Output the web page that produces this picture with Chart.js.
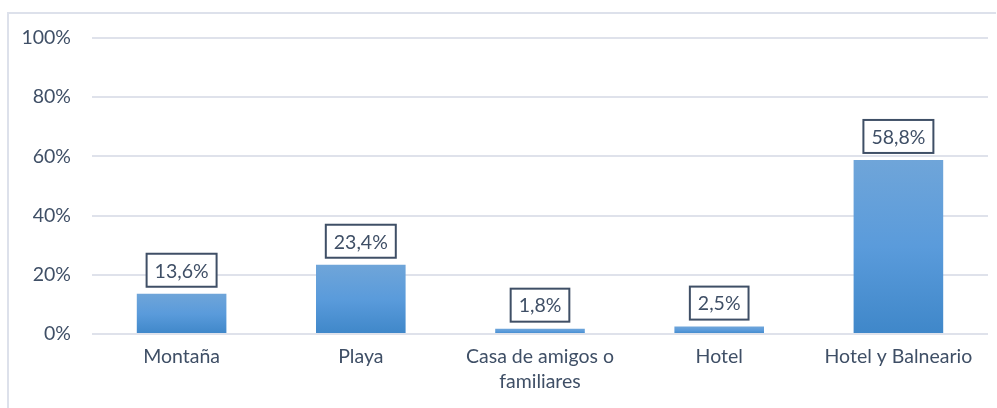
<!DOCTYPE html>
<html>
<head>
<meta charset="utf-8">
<script src="https://cdn.jsdelivr.net/npm/chart.js@4"></script>
<style>
  html, body { margin: 0; padding: 0; background: #ffffff; }
  #wrap { width: 997px; height: 408px; position: relative; }
</style>
</head>
<body>
<div id="wrap"><canvas id="c" width="997" height="408"></canvas></div>
<script>
const categories = ["Montaña", "Playa", ["Casa de amigos o", "familiares"], "Hotel", "Hotel y Balneario"];
const values = [13.6, 23.4, 1.8, 2.5, 58.8];
const yTicks = [0, 20, 40, 60, 80, 100];

const textColor = '#3f4f66';
const fontFamily = 'Lato, "Open Sans", sans-serif';
const fontSize = 19.5;

const framePlugin = {
  id: 'frame',
  beforeDraw(chart) {
    const c = chart.ctx;
    c.save();
    c.strokeStyle = '#dde1eb';
    c.lineWidth = 2;
    c.beginPath();
    c.moveTo(8, 408);
    c.lineTo(8, 13);
    c.lineTo(996, 13);
    c.stroke();
    c.restore();
  }
};

const labelPlugin = {
  id: 'boxLabels',
  afterDatasetsDraw(chart) {
    const c = chart.ctx;
    const meta = chart.getDatasetMeta(0);
    c.save();
    c.font = fontSize + 'px ' + fontFamily;
    c.textAlign = 'center';
    c.textBaseline = 'middle';
    meta.data.forEach((bar, i) => {
      const txt = values[i].toFixed(1).replace('.', ',') + '%';
      const w = c.measureText(txt).width + 16;
      const h = 33;
      const bottom = bar.y - 7;
      const left = bar.x - w / 2;
      c.fillStyle = '#ffffff';
      c.fillRect(left, bottom - h, w, h);
      c.strokeStyle = textColor;
      c.lineWidth = 2;
      c.strokeRect(left, bottom - h, w, h);
      c.fillStyle = textColor;
      c.fillText(txt, bar.x, bottom - h / 2 + 1);
    });
    c.restore();
  }
};

new Chart(document.getElementById('c'), {
  type: 'bar',
  data: {
    labels: categories,
    datasets: [{
      data: values,
      backgroundColor(ctx) {
        const chart = ctx.chart;
        if (!chart.chartArea || ctx.raw === undefined) return '#5b9bd5';
        const ys = chart.scales.y;
        const top = ys.getPixelForValue(ctx.raw);
        const base = ys.getPixelForValue(0);
        if (!isFinite(top) || !isFinite(base) || top === base) return '#5b9bd5';
        const g = chart.ctx.createLinearGradient(0, top, 0, base);
        g.addColorStop(0, '#6fa5d9');
        g.addColorStop(0.5, '#5a9bdb');
        g.addColorStop(1, '#3f87c9');
        return g;
      },
      borderWidth: 0,
      barPercentage: 0.5,
      categoryPercentage: 1.0
    }]
  },
  options: {
    responsive: false,
    animation: false,
    devicePixelRatio: 1,
    layout: { padding: { top: 38, right: 9, left: 0, bottom: 0 } },
    plugins: {
      legend: { display: false },
      tooltip: { enabled: false }
    },
    scales: {
      x: {
        grid: { display: false, drawTicks: false },
        border: { display: false },
        ticks: {
          color: textColor,
          font: { family: fontFamily, size: fontSize, lineHeight: 1.28 },
          padding: 10,
          maxRotation: 0,
          autoSkip: false
        },
        afterFit(scale) { scale.height = 74; }
      },
      y: {
        min: 0,
        max: 100,
        afterBuildTicks(scale) { scale.ticks = yTicks.map(v => ({ value: v })); },
        grid: { color: '#dfe2eb', lineWidth: 2, drawTicks: false },
        border: { display: false },
        ticks: {
          color: textColor,
          font: { family: fontFamily, size: fontSize },
          padding: 21,
          callback: v => v + '%'
        },
        afterFit(scale) { scale.width = 92; }
      }
    }
  },
  plugins: [framePlugin, labelPlugin]
});
</script>
</body>
</html>
